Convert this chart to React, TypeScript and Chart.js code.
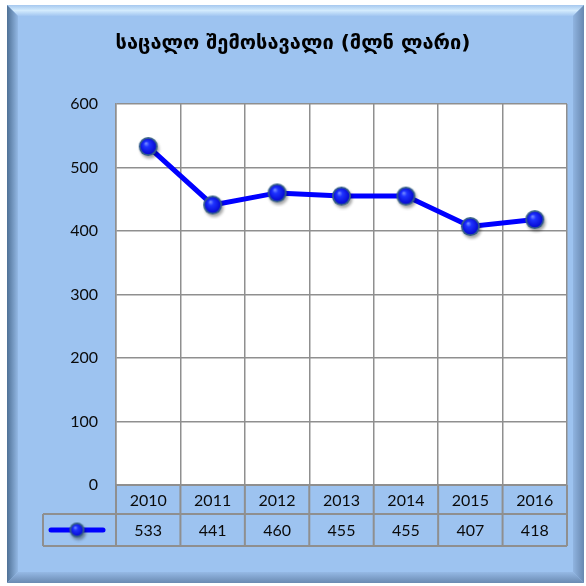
import { useEffect, useRef } from "react";
import { Chart, registerables } from "chart.js";

Chart.register(...registerables);

const TITLE = "საცალო შემოსავალი (მლნ ლარი)";
const YEARS = ["2010", "2011", "2012", "2013", "2014", "2015", "2016"];
const VALUES = [533, 441, 460, 455, 455, 407, 418];
const Y_MIN = 0;
const Y_MAX = 600;
const Y_STEP = 100;

const W = 586;
const H = 586;
const FILL = "#9dc3f0";
const GRID = "#8f8f8f";
const TEXT = "#0a0a0a";
const NUM_FONT = "Lato, 'Open Sans', sans-serif";

function makeMarker(r: number): HTMLCanvasElement {
  const size = Math.ceil(r * 2 + 10);
  const c = document.createElement("canvas");
  c.width = size;
  c.height = size;
  const ctx = c.getContext("2d")!;
  const cx = size / 2;
  const cy = size / 2;
  ctx.save();
  ctx.shadowColor = "rgba(0,0,0,0.35)";
  ctx.shadowBlur = 3;
  ctx.shadowOffsetX = 1.5;
  ctx.shadowOffsetY = 2.5;
  ctx.beginPath();
  ctx.arc(cx, cy, r, 0, Math.PI * 2);
  ctx.fillStyle = "#355f88";
  ctx.fill();
  ctx.restore();
  const g = ctx.createRadialGradient(cx - r * 0.25, cy - r * 0.35, 0, cx, cy, r);
  g.addColorStop(0, "#7f96ff");
  g.addColorStop(0.3, "#1f33ff");
  g.addColorStop(1, "#0000c8");
  ctx.beginPath();
  ctx.arc(cx, cy, r - 1.7, 0, Math.PI * 2);
  ctx.fillStyle = g;
  ctx.fill();
  return c;
}

function drawFrame(ctx: CanvasRenderingContext2D) {
  const L = 7, T = 5, R = 584, B = 583, bw = 11;
  ctx.fillStyle = "#ffffff";
  ctx.fillRect(0, 0, W, H);
  ctx.fillStyle = FILL;
  ctx.fillRect(L, T, R - L, B - T);
  let g = ctx.createLinearGradient(0, T, 0, T + bw);
  g.addColorStop(0, "#a6c8ef");
  g.addColorStop(0.5, "#d3ebfd");
  g.addColorStop(1, "#a2c6f1");
  ctx.fillStyle = g;
  ctx.beginPath();
  ctx.moveTo(L, T); ctx.lineTo(R, T); ctx.lineTo(R - bw, T + bw); ctx.lineTo(L + bw, T + bw); ctx.closePath();
  ctx.fill();
  g = ctx.createLinearGradient(L, 0, L + bw, 0);
  g.addColorStop(0, "#4f7196");
  g.addColorStop(1, "#93b8e4");
  ctx.fillStyle = g;
  ctx.beginPath();
  ctx.moveTo(L, T); ctx.lineTo(L + bw, T + bw); ctx.lineTo(L + bw, B - bw); ctx.lineTo(L, B); ctx.closePath();
  ctx.fill();
  g = ctx.createLinearGradient(R - bw, 0, R, 0);
  g.addColorStop(0, "#90b4e0");
  g.addColorStop(1, "#6888b0");
  ctx.fillStyle = g;
  ctx.beginPath();
  ctx.moveTo(R, T); ctx.lineTo(R, B); ctx.lineTo(R - bw, B - bw); ctx.lineTo(R - bw, T + bw); ctx.closePath();
  ctx.fill();
  g = ctx.createLinearGradient(0, B - bw, 0, B);
  g.addColorStop(0, "#95b9e5");
  g.addColorStop(1, "#6a8ab2");
  ctx.fillStyle = g;
  ctx.beginPath();
  ctx.moveTo(L, B); ctx.lineTo(R, B); ctx.lineTo(R - bw, B - bw); ctx.lineTo(L + bw, B - bw); ctx.closePath();
  ctx.fill();
}

export default function App() {
  const ref = useRef<HTMLCanvasElement | null>(null);

  useEffect(() => {
    const canvas = ref.current;
    if (!canvas) return;
    const marker = makeMarker(9.5);
    const legendMarker = makeMarker(7.5);

    const bgPlugin = {
      id: "bg",
      beforeDraw(chart: any) {
        const ctx = chart.ctx as CanvasRenderingContext2D;
        ctx.save();
        drawFrame(ctx);
        const a = chart.chartArea;
        ctx.fillStyle = "#ffffff";
        ctx.fillRect(a.left, a.top, a.right - a.left, a.bottom - a.top);
        ctx.restore();
      },
    };

    const tablePlugin = {
      id: "table",
      afterDraw(chart: any) {
        const ctx = chart.ctx as CanvasRenderingContext2D;
        const xs = chart.scales.x;
        const a = chart.chartArea;
        const n = YEARS.length;
        const step = (a.right - a.left) / n;
        const top = a.bottom;
        const mid = top + 29;
        const bot = mid + 32;
        const legLeft = 43;
        ctx.save();
        ctx.strokeStyle = GRID;
        ctx.lineWidth = 2;
        ctx.beginPath();
        ctx.moveTo(a.left, top); ctx.lineTo(a.right, top);
        ctx.moveTo(legLeft, mid); ctx.lineTo(a.right, mid);
        ctx.moveTo(legLeft, bot); ctx.lineTo(a.right, bot);
        for (let i = 0; i <= n; i++) {
          const x = xs.getPixelForValue(0) - step / 2 + i * step;
          ctx.moveTo(x, top); ctx.lineTo(x, bot);
        }
        ctx.moveTo(legLeft, mid); ctx.lineTo(legLeft, bot);
        ctx.stroke();
        ctx.fillStyle = TEXT;
        ctx.font = `16px ${NUM_FONT}`;
        ctx.textAlign = "center";
        ctx.textBaseline = "middle";
        for (let i = 0; i < n; i++) {
          const x = xs.getPixelForValue(i);
          ctx.fillText(YEARS[i], x, (top + mid) / 2 + 1);
          ctx.fillText(String(VALUES[i]), x, (mid + bot) / 2 + 1);
        }
        const ly = (mid + bot) / 2;
        ctx.strokeStyle = "#0000ff";
        ctx.lineWidth = 5;
        ctx.lineCap = "round";
        ctx.beginPath();
        ctx.moveTo(51, ly); ctx.lineTo(103, ly);
        ctx.stroke();
        const lx = (51 + 103) / 2;
        ctx.drawImage(legendMarker, lx - legendMarker.width / 2, ly - legendMarker.height / 2);
        ctx.restore();
      },
    };

    const chart = new Chart(canvas, {
      type: "line",
      data: {
        labels: YEARS,
        datasets: [
          {
            label: "",
            data: VALUES,
            borderColor: "#0000ff",
            borderWidth: 5,
            tension: 0,
            pointStyle: marker as any,
            pointRadius: 9,
            pointHoverRadius: 9,
            fill: false,
          },
        ],
      },
      options: {
        responsive: false,
        devicePixelRatio: 1,
        animation: false,
        events: [],
        layout: { padding: { left: 19, right: 19, top: 0, bottom: 0 } },
        plugins: {
          legend: { display: false },
          tooltip: { enabled: false },
          title: {
            display: true,
            text: TITLE,
            color: "#000000",
            font: { family: "'DejaVu Sans', sans-serif", size: 20, weight: "bold", lineHeight: 1.2 },
            padding: { top: 32, bottom: 48 },
          },
        },
        scales: {
          x: {
            type: "category",
            offset: true,
            afterFit(scale: any) {
              scale.height = 101;
            },
            grid: { offset: true, color: GRID, lineWidth: 1.5, drawTicks: false },
            border: { display: true, color: GRID, width: 1.5 },
            ticks: { display: false },
          },
          y: {
            min: Y_MIN,
            max: Y_MAX,
            afterFit(scale: any) {
              scale.width = 97;
            },
            grid: { color: GRID, lineWidth: 1.5, drawTicks: false },
            border: { display: true, color: GRID, width: 1.5 },
            ticks: {
              stepSize: Y_STEP,
              padding: 18,
              color: TEXT,
              font: { family: NUM_FONT, size: 16 },
            },
          },
        },
      },
      plugins: [bgPlugin, tablePlugin],
    } as any);

    return () => chart.destroy();
  }, []);

  return (
    <div style={{ position: "fixed", left: 0, top: 0, width: W, height: H }}>
      <canvas ref={ref} width={W} height={H} style={{ display: "block", width: W, height: H }} />
    </div>
  );
}
